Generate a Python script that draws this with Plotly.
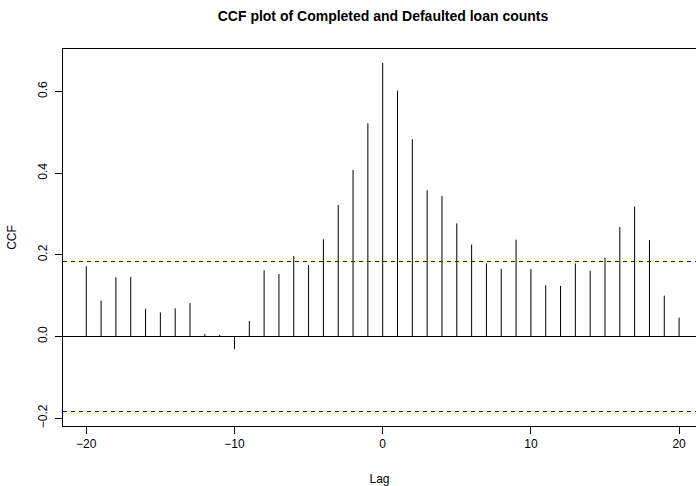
import plotly.graph_objects as go

lags = list(range(-20, 21))
ccf_values = [0.172, 0.088, 0.145, 0.146, 0.068, 0.059, 0.069, 0.082, 0.006, 0.004,
              -0.031, 0.038, 0.162, 0.153, 0.197, 0.175, 0.238, 0.322, 0.408, 0.522,
              0.670, 0.602, 0.483, 0.358, 0.344, 0.277, 0.225, 0.179, 0.166, 0.237,
              0.165, 0.126, 0.124, 0.179, 0.161, 0.193, 0.268, 0.318, 0.236, 0.100,
              0.046]
ci_bound = 0.1836
x_ticks = [-20, -10, 0, 10, 20]
y_ticks = [-0.2, 0.0, 0.2, 0.4, 0.6]
y_tick_labels = ["\u22120.2", "0.0", "0.2", "0.4", "0.6"]

FONT = "Liberation Sans, Arial, Helvetica, sans-serif"

# spikes built from the arrays
sx, sy = [], []
for lag, v in zip(lags, ccf_values):
    sx += [lag, lag, None]
    sy += [0, v, None]

fig = go.Figure()
fig.add_trace(go.Scatter(x=sx, y=sy, mode="lines",
                         line=dict(color="black", width=1), hoverinfo="skip",
                         showlegend=False))

xr = [-21.57, 21.14]
fig.add_hline(y=0, line=dict(color="black", width=1))
for b in (ci_bound, -ci_bound):
    fig.add_hline(y=b, line=dict(color="rgb(0,0,255)", width=1, dash="4px,4px"))

fig.update_layout(
    width=696, height=486,
    margin=dict(l=63, r=0, t=49, b=60),
    paper_bgcolor="white", plot_bgcolor="white",
    font=dict(family=FONT, size=12, color="black"),
    title=dict(text="<b>CCF plot of Completed and Defaulted loan counts</b>",
               xref="paper", x=(383 - 63) / 633, xanchor="center",
               y=1 - 16 / 486, yanchor="middle",
               font=dict(family=FONT, size=14, color="black")),
    xaxis=dict(range=xr, tickvals=x_ticks, ticks="outside", ticklen=7,
               tickcolor="black", showline=True, linecolor="black", linewidth=1,
               mirror=True, showgrid=False, zeroline=False,
               tickfont=dict(size=12),
               title=dict(text="Lag", standoff=24, font=dict(size=12))),
    yaxis=dict(range=[-0.2191, 0.7038], tickvals=y_ticks, ticktext=y_tick_labels,
               tickangle=-90, ticks="outside", ticklen=7, tickcolor="black",
               ticklabelstandoff=3,
               showline=True, linecolor="black", linewidth=1, mirror=False,
               showgrid=False, zeroline=False, tickfont=dict(size=12),
               title=dict(text="CCF", standoff=17, font=dict(size=12))),
)

fig.write_html("out.html")
